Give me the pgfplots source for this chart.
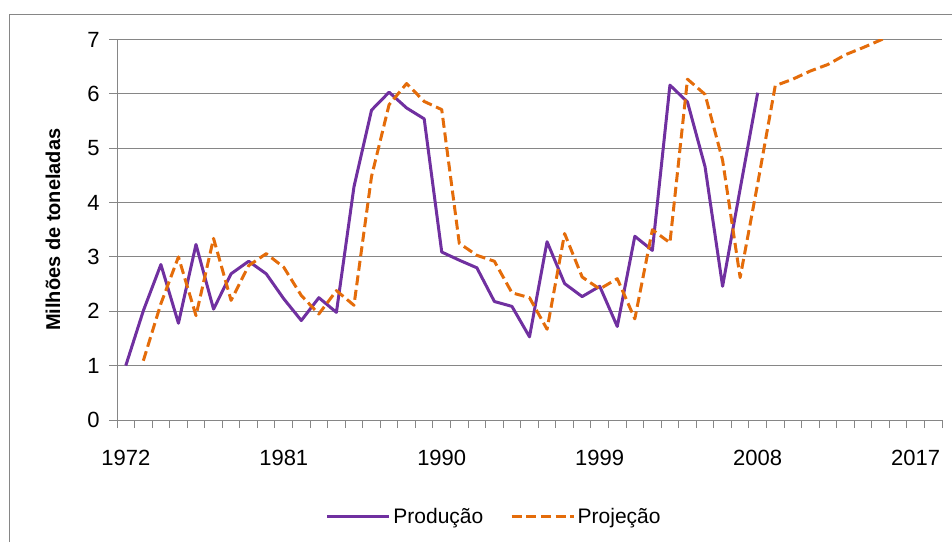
\documentclass[border=0pt]{standalone}
\usepackage{fontspec}
\setmainfont{Liberation Sans}
\usepackage{pgfplots}
\pgfplotsset{compat=1.18}
\definecolor{prodc}{HTML}{7030A0}
\definecolor{projc}{HTML}{E46C0A}
\definecolor{gridc}{HTML}{868686}
\begin{document}
\begin{tikzpicture}
\useasboundingbox (0pt,0pt) rectangle (714pt,-406.5pt);
\draw[gridc, line width=0.75pt] (7.1pt,-406.5pt) -- (7.1pt,-11.25pt) -- (714pt,-11.25pt);
\begin{axis}[
  at={(87.75pt,-315pt)}, anchor=south west,
  scale only axis, width=618.75pt, height=285.4pt,
  xmin=1971.5, xmax=2018.5, ymin=0, ymax=7,
  axis lines*=left,
  axis line style={gridc, line width=0.75pt},
  ytick={0,1,...,7},
  ymajorgrids, major grid style={gridc, line width=0.75pt},
  xtick={1971.5,1972.5,...,2018.5},
  xticklabels={},
  extra x ticks={1972,1981,1990,1999,2008,2017},
  extra x tick labels={1972,1981,1990,1999,2008,2017},
  extra x tick style={major tick length=0pt, tick label style={yshift=-19pt}},
  tick align=outside, tick pos=left,
  major tick length=6pt,
  tick style={gridc, line width=0.75pt},
  tick label style={font=\fontsize{16.5}{19}\selectfont},
  yticklabel style={xshift=-3.5pt},
  /pgf/number format/assume math mode=true,
  ylabel={Milhões de toneladas},
  ylabel style={font=\bfseries\fontsize{15}{18}\selectfont, at={(axis description cs:-0.0776,0.5)}, anchor=center},
  legend columns=2,
  legend style={at={(axis description cs:0.4576,-0.254)}, anchor=center, draw=none, fill=none,
    font=\fontsize{15.75}{18}\selectfont,
    /tikz/every even column/.append style={column sep=18pt}},
  legend image code/.code={\draw[#1] (0pt,0pt) -- (46.5pt,0pt);},
  line join=round,
]
\addplot[prodc, line width=2.25pt] table {
1972 1.00
1973 2.01
1974 2.86
1975 1.78
1976 3.23
1977 2.04
1978 2.69
1979 2.92
1980 2.69
1981 2.23
1982 1.83
1983 2.25
1984 1.98
1985 4.29
1986 5.70
1987 6.03
1988 5.74
1989 5.54
1990 3.09
1991 2.94
1992 2.80
1993 2.18
1994 2.09
1995 1.53
1996 3.28
1997 2.51
1998 2.27
1999 2.46
2000 1.72
2001 3.38
2002 3.12
2003 6.16
2004 5.85
2005 4.66
2006 2.46
2007 4.25
2008 6.02
};
\addlegendentry{Produção}
\addplot[projc, line width=2.25pt, dash pattern=on 7.5pt off 3.5pt] table {
1973 1.09
1974 2.14
1975 3.00
1976 1.92
1977 3.34
1978 2.20
1979 2.84
1980 3.06
1981 2.81
1982 2.29
1983 1.95
1984 2.38
1985 2.11
1986 4.48
1987 5.80
1988 6.19
1989 5.86
1990 5.71
1991 3.25
1992 3.03
1993 2.92
1994 2.34
1995 2.25
1996 1.67
1997 3.43
1998 2.63
1999 2.41
2000 2.60
2001 1.86
2002 3.50
2003 3.26
2004 6.27
2005 5.99
2006 4.78
2007 2.62
2008 4.35
2009 6.15
2010 6.27
2011 6.42
2012 6.54
2013 6.72
2014 6.85
2015 6.99
2016 7.13
2017 7.27
};
\addlegendentry{Projeção}
\end{axis}
\end{tikzpicture}
\end{document}
